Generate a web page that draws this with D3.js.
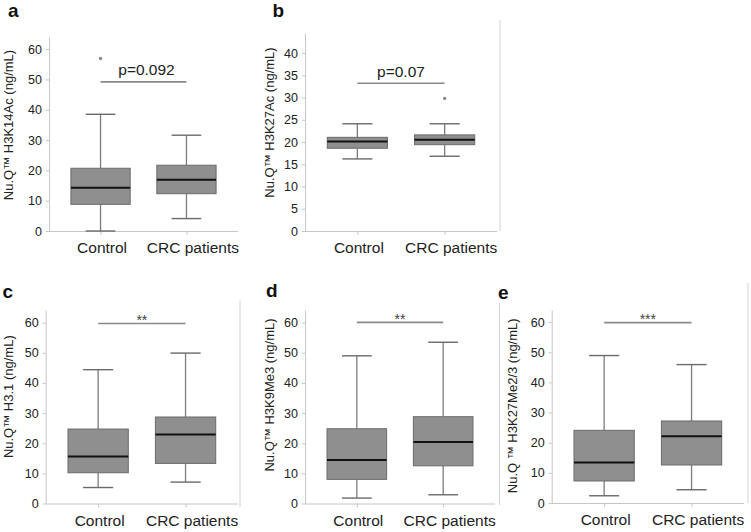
<!DOCTYPE html>
<html><head><meta charset="utf-8">
<script src="https://cdn.jsdelivr.net/npm/d3@7"></script>
<style>body{margin:0;background:#fff}svg{display:block;font-family:"Liberation Sans",Arial,sans-serif}</style>
</head><body><svg id="chart" width="751" height="532"></svg>
<script>
// ---------- data ----------
const panelLetters = ["a", "b", "c", "d", "e"];
const yTitles = ["Nu.Q™ H3K14Ac (ng/mL)", "Nu.Q™ H3K27Ac (ng/mL)", "Nu.Q™ H3.1 (ng/mL)", "Nu.Q™ H3K9Me3 (ng/mL)", "Nu.Q ™ H3K27Me2/3 (ng/mL)"];
const categories = ["Control", "CRC patients"];
// [lower whisker, Q1, median, Q3, upper whisker]
const controlBox = [
  [0, 8.8, 14.3, 20.7, 38.5],
  [16.2, 18.6, 20.1, 21.05, 24.1],
  [5.3, 10.2, 15.6, 24.7, 44.4],
  [1.8, 8.0, 14.4, 24.8, 49.0],
  [2.4, 7.3, 13.4, 24.1, 48.9]
];
const crcBox = [
  [4.1, 12.3, 16.9, 21.7, 31.6],
  [16.8, 19.4, 20.5, 21.6, 24.1],
  [7.1, 13.3, 22.9, 28.7, 49.9],
  [2.9, 12.5, 20.4, 28.8, 53.5],
  [4.4, 12.6, 22.1, 27.2, 45.9]
];
const controlOutliers = [[56.9], [], [], [], []];
const crcOutliers = [[], [29.8], [], [], []];
const sigLabels = ["p=0.092", "p=0.07", "**", "**", "***"];
const sigLevels = [49.2, 33.2, 59.7, 60.1, 59.8];
const yDomainMax = [64, 44.5, 64.2, 64.2, 64];
const yTickValues = [
  [0, 10, 20, 30, 40, 50, 60],
  [0, 5, 10, 15, 20, 25, 30, 35, 40],
  [0, 10, 20, 30, 40, 50, 60],
  [0, 10, 20, 30, 40, 50, 60],
  [0, 10, 20, 30, 40, 50, 60]
];

// ---------- layout ----------
const layout = [
  {x0: 49, x1: 238, yTop: 37, yBot: 231, letter: [8, 17], title: [12.8, 125], right: null},
  {x0: 305, x1: 497, yTop: 33, yBot: 231, letter: [272.5, 17], title: [274.3, 122.5], right: {x: 500, y0: 20, y1: 231}},
  {x0: 45.7, x1: 238, yTop: 310, yBot: 503.5, letter: [2.5, 298], title: [12.8, 396.7], right: {x: 240, y0: 300, y1: 507}},
  {x0: 305, x1: 495, yTop: 310, yBot: 503.5, letter: [266, 297], title: [274.3, 395], right: {x: 499.5, y0: 303, y1: 505}},
  {x0: 551.7, x1: 744, yTop: 310, yBot: 503, letter: [498, 299], title: [517.3, 405.8], right: {x: 748, y0: 283, y1: 503}}
];

const svg = d3.select("#chart");
const axisColor = "#c6c6c6";
const textColor = "#222";

panelLetters.forEach((letter, i) => {
  const L = layout[i];
  const g = svg.append("g");
  const x = d3.scalePoint().domain(categories).range([L.x0, L.x1]).padding(0.6);
  const y = d3.scaleLinear().domain([0, yDomainMax[i]]).range([L.yBot, L.yTop]);
  const bw = x.step() * 0.69;

  if (L.right) {
    g.append("line").attr("x1", L.right.x).attr("x2", L.right.x)
      .attr("y1", L.right.y0).attr("y2", L.right.y1)
      .attr("stroke", "#d4d4d4").attr("stroke-width", 1);
  }

  // y axis
  const ya = g.append("g").attr("transform", `translate(${L.x0},0)`)
    .call(d3.axisLeft(y).tickValues(yTickValues[i]).tickSize(3).tickSizeOuter(0).tickPadding(4).tickFormat(d3.format("d")));
  ya.select(".domain").attr("stroke", axisColor);
  ya.selectAll(".tick line").attr("stroke", axisColor);
  ya.selectAll(".tick text").attr("fill", textColor).style("font-size", "12.5px");

  // x axis
  const xa = g.append("g").attr("transform", `translate(0,${L.yBot})`)
    .call(d3.axisBottom(x).tickSize(4).tickSizeOuter(0).tickPadding(7));
  xa.select(".domain").attr("d", `M${L.x0},0.5H${L.x1}`).attr("stroke", axisColor);
  xa.selectAll(".tick line").attr("stroke", axisColor);
  xa.selectAll(".tick text").attr("fill", textColor).style("font-size", "15.5px")
    .attr("dx", d => d === categories[1] ? 6 : 1);

  // boxes
  const groups = [controlBox[i], crcBox[i]];
  groups.forEach((s, k) => {
    const cx = x(categories[k]);
    const [lo, q1, med, q3, hi] = s;
    const stroke = "#7c7c7c";
    g.append("line").attr("x1", cx).attr("x2", cx).attr("y1", y(lo)).attr("y2", y(q1)).attr("stroke", stroke).attr("stroke-width", 1.3);
    g.append("line").attr("x1", cx).attr("x2", cx).attr("y1", y(q3)).attr("y2", y(hi)).attr("stroke", stroke).attr("stroke-width", 1.3);
    g.append("line").attr("x1", cx - bw / 4).attr("x2", cx + bw / 4).attr("y1", y(lo)).attr("y2", y(lo)).attr("stroke", "#6a6a6a").attr("stroke-width", 1.4);
    g.append("line").attr("x1", cx - bw / 4).attr("x2", cx + bw / 4).attr("y1", y(hi)).attr("y2", y(hi)).attr("stroke", "#6a6a6a").attr("stroke-width", 1.4);
    g.append("rect").attr("x", cx - bw / 2).attr("width", bw)
      .attr("y", y(q3)).attr("height", y(q1) - y(q3))
      .attr("fill", "#8f8f8f").attr("stroke", "#6b6b6b").attr("stroke-width", 1);
    g.append("line").attr("x1", cx - bw / 2).attr("x2", cx + bw / 2).attr("y1", y(med)).attr("y2", y(med))
      .attr("stroke", "#111").attr("stroke-width", 2);
  });

  // outliers
  [[controlOutliers[i], 0], [crcOutliers[i], 1]].forEach(([vals, k]) => {
    g.selectAll(null).data(vals).enter().append("circle")
      .attr("cx", x(categories[k])).attr("cy", d => y(d)).attr("r", 1.7).attr("fill", "#8a8a8a");
  });

  // significance
  const sy = y(sigLevels[i]);
  const xa0 = x(categories[0]), xa1 = x(categories[1]);
  g.append("line").attr("x1", xa0).attr("x2", xa1).attr("y1", sy).attr("y2", sy)
    .attr("stroke", "#8a8a8a").attr("stroke-width", 1.6);
  const isStar = sigLabels[i].startsWith("*");
  g.append("text").attr("x", (xa0 + xa1) / 2 + (i === 0 ? 3 : 0))
    .attr("y", isStar ? sy + 1.5 : sy - 6.5)
    .attr("text-anchor", "middle").attr("fill", isStar ? "#444" : textColor)
    .style("font-size", isStar ? "14px" : "15.5px").text(sigLabels[i]);

  // y title
  g.append("text").attr("transform", `translate(${L.title[0]},${L.title[1]}) rotate(-90)`)
    .attr("text-anchor", "middle").attr("fill", textColor).style("font-size", "13px").text(yTitles[i]);

  // panel letter
  g.append("text").attr("x", L.letter[0]).attr("y", L.letter[1])
    .attr("fill", "#111").style("font-size", "19px").style("font-weight", "bold").text(letter);
});
</script></body></html>
